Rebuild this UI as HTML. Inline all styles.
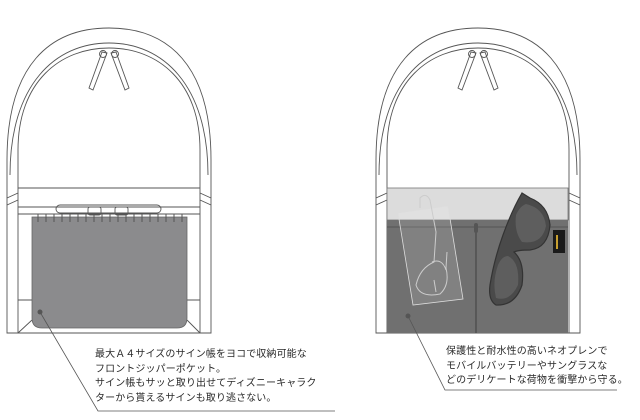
<!DOCTYPE html>
<html><head><meta charset="utf-8"><style>
html,body{margin:0;padding:0;background:#fff;width:640px;height:420px;overflow:hidden}
svg{position:absolute;left:0;top:0}
.t{position:absolute;font-family:"Liberation Sans","Noto Sans CJK JP",sans-serif;font-size:10px;line-height:14.5px;color:#2a2a2a;white-space:nowrap;letter-spacing:0.1px}
</style></head><body>
<svg width="640" height="420" viewBox="0 0 640 420">
<defs>
<g id="bag" fill="none" stroke="#555" stroke-width="0.9">
<path d="M7,333 L7,160 C7,65 50,28 109,28 C168,28 211,65 211,160 L211,333 Z" fill="#fff"/>
<path d="M10,175 C10,85 55,43 109,43 C163,43 208,85 208,175"/>
<path d="M18,150 C18,82 60,48 109,48 C158,48 200,82 200,150 L200,333 M18,150 L18,333"/>
<path d="M102,52 L89,88 L93,90 L107,53 Z M116,52 L129,88 L125,90 L111,53 Z"/>
<circle cx="103" cy="54" r="3.5"/><circle cx="115" cy="54" r="3.5"/>
<path d="M7,198 L18,193 M7,205 L18,200 M211,198 L200,193 M211,205 L200,200"/>
</g>
</defs>
<use href="#bag" x="0" y="0"/>
<use href="#bag" x="369" y="0"/>
<g fill="none" stroke="#555" stroke-width="0.9">
<line x1="18" y1="188" x2="200" y2="188"/>
<line x1="18" y1="207" x2="200" y2="207"/>
<line x1="18" y1="214" x2="200" y2="214"/>
<rect x="56" y="205" width="105" height="8" rx="4"/>
<rect x="88" y="207" width="13" height="8" rx="2"/><rect x="115" y="207" width="13" height="8" rx="2"/>
<path d="M18,300 L32,300 M187,300 L200,300 M18,333 L32,320 M200,333 L187,320"/>
</g>
<path d="M32,217 L187,217 L187,318 Q187,328 177,328 L42,328 Q32,328 32,318 Z" fill="#8b8b8d" stroke="#666" stroke-width="0.8"/>
<g stroke="#555" stroke-width="1" fill="none">
<path d="M38,222 v-8 M46,222 v-8 M54,222 v-8 M62,222 v-8 M70,222 v-8 M78,222 v-8 M86,222 v-8 M94,222 v-8 M102,222 v-8 M110,222 v-8 M118,222 v-8 M126,222 v-8 M134,222 v-8 M142,222 v-8 M150,222 v-8 M158,222 v-8 M166,222 v-8 M174,222 v-8 M182,222 v-8"/>
</g>
<circle cx="40" cy="312" r="2.5" fill="#555"/>
<path d="M40,312 L98,411 L335,411" fill="none" stroke="#555" stroke-width="0.8"/>
<rect x="387" y="188" width="181" height="32" fill="#dcdcdc" stroke="#777" stroke-width="0.8"/>
<rect x="387" y="220" width="181" height="113" fill="#707070"/>
<line x1="387" y1="227" x2="568" y2="227" stroke="#555" stroke-width="1"/>
<line x1="476" y1="225" x2="476" y2="333" stroke="#333" stroke-width="0.8"/>
<rect x="474" y="223" width="4" height="10" rx="2" fill="#555"/>
<path d="M398,213 L448,206 L463,299 L413,305 Z" fill="rgba(255,255,255,0.12)" stroke="#ddd" stroke-width="0.8"/>
<path d="M420,208 L420,198 Q426,192 430,200 L436,232 L434,262 Q420,268 416,285 Q420,298 440,294 Q450,285 446,268 L447,252 M432,262 Q442,258 446,270 M436,292 L434,280" fill="none" stroke="#ccc" stroke-width="1"/>
<path d="M522,193 L530,198 Q548,205 550,225 Q548,248 530,250 Q518,250 514,252 Q525,262 522,285 Q515,306 496,305 Q488,300 490,285 Q494,260 503,235 Q512,210 522,193 Z" fill="#4a4a4a" stroke="#333" stroke-width="1.2"/>
<path d="M526,204 Q544,208 546,226 Q542,245 522,242 Q514,232 516,215 Q520,206 526,204 Z M508,256 Q520,262 518,285 Q510,302 496,298 Q492,282 498,265 Q502,256 508,256 Z" fill="#5e5e5e"/>
<rect x="553" y="230" width="12" height="23" fill="#1a1a1a"/>
<rect x="556" y="235" width="2" height="14" fill="#c8a030"/>
<circle cx="408" cy="316" r="2.5" fill="#555"/>
<path d="M408,316 L445,390 L617,390" fill="none" stroke="#555" stroke-width="0.8"/>
</svg>
<div class="t" style="left:95px;top:348px">最大Ａ４サイズのサイン帳をヨコで収納可能な<br>フロントジッパーポケット。<br>サイン帳もサッと取り出せてディズニーキャラク<br>ターから貰えるサインも取り逃さない。</div>
<div class="t" style="left:446px;top:345px">保護性と耐水性の高いネオプレンで<br>モバイルバッテリーやサングラスな<br>どのデリケートな荷物を衝撃から守る。</div>
</body></html>
